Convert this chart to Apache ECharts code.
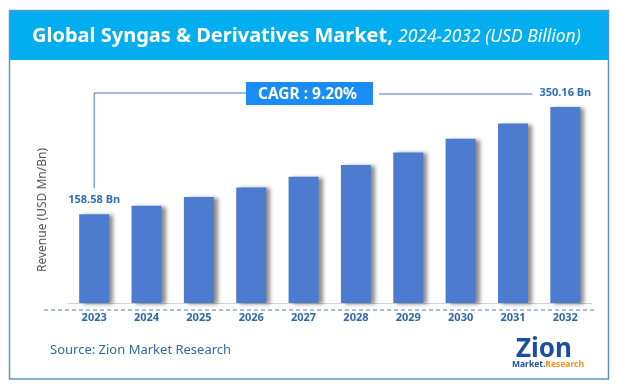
<!DOCTYPE html>
<html><head><meta charset="utf-8">
<script src="https://cdn.jsdelivr.net/npm/echarts@6/dist/echarts.min.js"></script>
<style>html,body{margin:0;padding:0;background:#fff}#c{width:618px;height:388px}</style>
</head><body><div id="c"></div>
<script>
const categories = ['2023','2024','2025','2026','2027','2028','2029','2030','2031','2032'];
const revenue = [158.58, 173.5, 189.4, 206.3, 225.4, 246.6, 268.8, 293.3, 320.5, 350.16];
const titleMain = 'Global Syngas & Derivatives Market,';
const titleSub = '2024-2032 (USD Billion)';
const cagrText = 'CAGR : 9.20%';
const yAxisTitle = 'Revenue (USD Mn/Bn)';
const sourceText = 'Source: Zion Market Research';

const chart = echarts.init(document.getElementById('c'), null, {renderer:'canvas'});
const FONT = 'Noto Sans';
const option = {
  animation: false,
  grid: {left: 68, right: 26.5, top: 79, bottom: 85},
  xAxis: {
    type: 'category', data: categories,
    axisLine: {show: true, lineStyle: {color: '#d4d4d4', width: 1}},
    axisTick: {show: false},
    axisLabel: {color: '#2f67a8', fontWeight: 'bold', fontSize: 11, fontFamily: FONT, margin: 9}
  },
  yAxis: {
    type: 'value', min: 0, max: 400,
    axisLine: {show: false}, axisTick: {show: false}, axisLabel: {show: false},
    splitLine: {show: false}
  },
  series: [{
    type: 'bar', data: revenue, barWidth: 30,
    itemStyle: {color: '#4c7bd0', shadowColor: 'rgba(0,0,0,0.45)', shadowBlur: 4, shadowOffsetX: 4, shadowOffsetY: 1},
    label: {
      show: true, position: 'top', distance: 9,
      color: '#2f6fb5', fontWeight: 'bold', fontSize: 11, fontFamily: FONT,
      formatter: p => (p.dataIndex === 0 || p.dataIndex === revenue.length - 1) ? p.value.toFixed(2) + ' Bn' : ''
    }
  }]
};
chart.setOption(option);

const first = chart.convertToPixel({seriesIndex: 0}, [0, revenue[0]]);
const last = chart.convertToPixel({seriesIndex: 0}, [revenue.length - 1, revenue[revenue.length - 1]]);
const lineY = 93;
const boxX = 246, boxW = 127, boxY = 82, boxH = 23;
chart.setOption({
  graphic: [
    {type: 'rect', shape: {x: 9.5, y: 10.5, width: 599, height: 368.5}, style: {fill: 'none', stroke: '#5b93d2', lineWidth: 1.5}, z: 10},
    {type: 'rect', shape: {x: 10, y: 11, width: 598, height: 49}, style: {fill: '#02aeef'}},
    {type: 'text', x: 32, y: 36, style: {text: titleMain, fill: '#fff', font: 'bold 20px "Noto Sans"', textVerticalAlign: 'middle'}},
    {type: 'text', x: 398, y: 37, style: {text: titleSub, fill: '#fff', font: 'italic 17.5px "Noto Sans"', textVerticalAlign: 'middle'}},
    {type: 'text', x: 43, y: 210, rotation: Math.PI / 2, style: {text: yAxisTitle, fill: '#555', font: '12px "Noto Sans"', textAlign: 'center', textVerticalAlign: 'middle'}},
    {type: 'polyline', shape: {points: [[first[0], first[1] - 26], [first[0], lineY], [boxX, lineY]]}, style: {stroke: '#3f78c6', lineWidth: 1, fill: 'none'}},
    {type: 'line', shape: {x1: boxX + boxW + 6, y1: lineY + 1, x2: last[0] - 33, y2: lineY + 1}, style: {stroke: '#3f78c6', lineWidth: 1}},
    {type: 'rect', shape: {x: boxX, y: boxY, width: boxW, height: boxH}, style: {fill: '#1a8cf5'}},
    {type: 'text', x: boxX + boxW / 2 - 2, y: boxY + boxH / 2 + 1, style: {text: cagrText, fill: '#fff', font: 'bold 15.5px "Noto Sans"', textAlign: 'center', textVerticalAlign: 'middle'}},
    {type: 'line', shape: {x1: 44, y1: 310, x2: 594, y2: 310}, style: {stroke: '#4a7ec6', lineWidth: 1, lineDash: [4, 3]}},
    {type: 'text', x: 50, y: 350, style: {text: sourceText, fill: '#2f6aa8', font: '13px "Noto Sans"', textVerticalAlign: 'middle'}},
    {type: 'text', x: 544, y: 350, style: {text: 'Zion', fill: '#1c4f9c', font: 'bold 26px "Noto Sans"', textAlign: 'center', textVerticalAlign: 'middle'}},
    {type: 'text', x: 512, y: 365, style: {rich: {a: {fill: '#1c4f9c', font: 'bold 8.5px "Noto Sans"'}, b: {fill: '#f29222', font: 'bold 8.5px "Noto Sans"'}}, text: '{a|Market.}{b|Research}', textVerticalAlign: 'middle'}}
  ]
});
</script></body></html>
